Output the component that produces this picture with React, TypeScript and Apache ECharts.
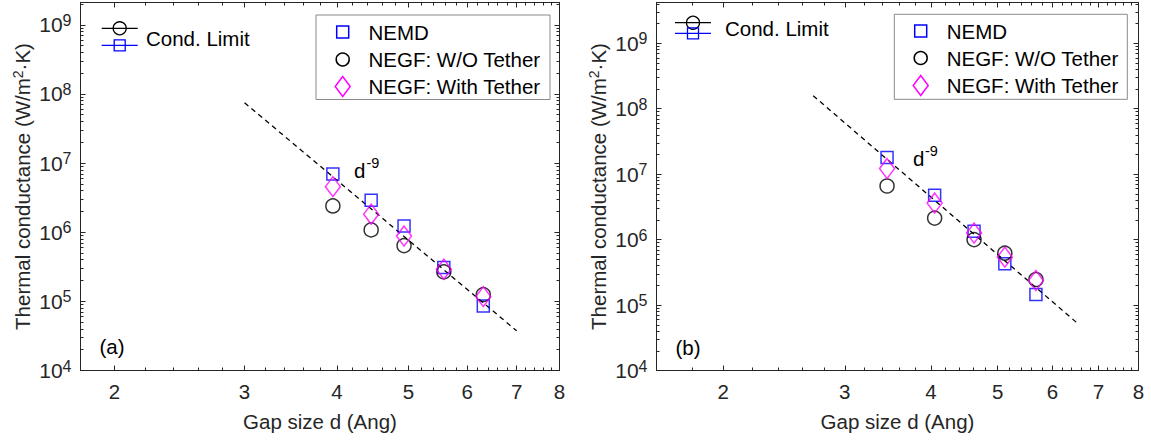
import React, { useEffect, useRef } from 'react';
import * as echarts from 'echarts';

// ---------- data ----------
// panel (a)
const gapA = [3.95, 4.45, 4.93, 5.58, 6.31];
const nemdA = [6.97e6, 2.9e6, 1.23e6, 3.08e5, 8.6e4];
const negfNoTetherA = [2.4e6, 1.08e6, 6.4e5, 2.67e5, 1.25e5];
const negfTetherA = [4.56e6, 1.82e6, 8.8e5, 2.92e5, 1.17e5];
const fitGapA = [3, 7];
const fitCondA = [7.46e7, 3.75e4];

// panel (b)
const gapB = [3.455, 4.05, 4.62, 5.12, 5.68];
const nemdB = [1.79e7, 4.75e6, 1.34e6, 4.28e5, 1.45e5];
const negfNoTetherB = [6.6e6, 2.13e6, 1.0e6, 6.2e5, 2.46e5];
const negfTetherB = [1.22e7, 3.62e6, 1.26e6, 5.4e5, 2.37e5];
const fitGapB = [2.7, 6.5];
const fitCondB = [1.58e8, 5.46e4];

// tick labels
const xMajorTicks = [2, 3, 4, 5, 6, 7, 8];
const yMajorTicks = [1e4, 1e5, 1e6, 1e7, 1e8, 1e9];
const seriesNames = ['NEMD', 'NEGF: W/O Tether', 'NEGF: With Tether'];
const condLimitLabel = 'Cond. Limit';
const xTitle = 'Gap size d (Ang)';
const yTitle = 'Thermal conductance (W/m{sup|2}·K)';

// minor tick positions (MATLAB style)
const xMinorTicks: number[] = [];
for (let i = 8; i <= 39; i++) if (i % 5 !== 0) xMinorTicks.push(i / 5);
const yMinorTicks: number[] = [];
for (let e = 4; e <= 9; e++) for (let k = 2; k <= 9; k++) yMinorTicks.push(k * Math.pow(10, e));

const FONT = 'Liberation Sans, Arial, Helvetica, sans-serif';
const FS = 20.5;
const AX = '#262626';
const BLUE = '#0000ff';
const MAGENTA = '#ff00ff';

const zip = (xs: number[], ys: number[]) => xs.map((x, i) => [x, ys[i]]);

function makeAxes(gridIndex: number, xMin: number, xMax: number, yMin: number, yMax: number) {
  const baseX = {
    type: 'log', logBase: 10, gridIndex, min: xMin, max: xMax,
    splitLine: { show: false }, minorTick: { show: false }, minorSplitLine: { show: false },
  };
  const baseY = {
    type: 'log', logBase: 10, gridIndex, min: yMin, max: yMax,
    splitLine: { show: false }, minorTick: { show: false }, minorSplitLine: { show: false },
  };
  const line = (show: boolean) => ({ show, onZero: false, lineStyle: { color: AX, width: 1 } });
  const tick = (vals: number[], len: number) => ({
    show: true, inside: true, length: len, customValues: vals, lineStyle: { color: AX, width: 1 },
  });
  const noLabel = { show: false };
  const xAxes = [
    {
      ...baseX, position: 'bottom', axisLine: line(true), axisTick: tick(xMajorTicks, 5),
      axisLabel: {
        show: true, customValues: xMajorTicks, margin: 10, color: AX, fontSize: FS, fontFamily: FONT,
        formatter: (v: number) => String(Math.round(v)),
      },
      name: xTitle, nameLocation: 'middle', nameGap: 40,
      nameTextStyle: { color: AX, fontSize: FS, fontFamily: FONT },
    },
    { ...baseX, position: 'bottom', axisLine: line(false), axisTick: tick(xMinorTicks, 3), axisLabel: noLabel },
    { ...baseX, position: 'top', axisLine: line(true), axisTick: tick(xMajorTicks, 5), axisLabel: noLabel },
    { ...baseX, position: 'top', axisLine: line(false), axisTick: tick(xMinorTicks, 3), axisLabel: noLabel },
  ];
  const yAxes = [
    {
      ...baseY, position: 'left', axisLine: line(true), axisTick: tick(yMajorTicks, 5),
      axisLabel: {
        show: true, customValues: yMajorTicks, margin: 9, color: AX,
        formatter: (v: number) => `{b|10}{s|${Math.round(Math.log10(v))}}`,
        rich: {
          b: { fontSize: 21, lineHeight: 25, fontFamily: FONT, color: AX },
          s: { fontSize: 16, lineHeight: 16, fontFamily: FONT, color: AX, verticalAlign: 'top' },
        },
      },
      name: yTitle, nameLocation: 'middle', nameGap: 46, nameRotate: 90,
      nameTextStyle: {
        color: AX, fontSize: FS, lineHeight: 24, fontFamily: FONT,
        rich: { sup: { fontSize: 14, lineHeight: 14, fontFamily: FONT, color: AX, verticalAlign: 'top' } },
      },
    },
    { ...baseY, position: 'left', axisLine: line(false), axisTick: tick(yMinorTicks, 3), axisLabel: noLabel },
    { ...baseY, position: 'right', axisLine: line(true), axisTick: tick(yMajorTicks, 5), axisLabel: noLabel },
    { ...baseY, position: 'right', axisLine: line(false), axisTick: tick(yMinorTicks, 3), axisLabel: noLabel },
  ];
  return { xAxes, yAxes };
}

function makeSeries(axisIndex: number, gaps: number[], nemd: number[], noT: number[], withT: number[], fitX: number[], fitY: number[]) {
  const common = { xAxisIndex: axisIndex, yAxisIndex: axisIndex, silent: true };
  return [
    {
      ...common, type: 'line', data: zip(fitX, fitY), showSymbol: false, symbol: 'none',
      lineStyle: { color: '#000', width: 1.3, type: [5, 4] }, z: 2,
    },
    {
      ...common, type: 'scatter', name: seriesNames[0], data: zip(gaps, nemd), symbol: 'rect', symbolSize: 12,
      itemStyle: { color: 'rgba(0,0,0,0)', borderColor: BLUE, borderWidth: 1.5 }, z: 3,
    },
    {
      ...common, type: 'scatter', name: seriesNames[1], data: zip(gaps, noT), symbol: 'circle', symbolSize: 14,
      itemStyle: { color: 'rgba(0,0,0,0)', borderColor: '#000', borderWidth: 1.5 }, z: 4,
    },
    {
      ...common, type: 'scatter', name: seriesNames[2], data: zip(gaps, withT), symbol: 'diamond', symbolSize: [15, 20],
      itemStyle: { color: 'rgba(0,0,0,0)', borderColor: MAGENTA, borderWidth: 1.5 }, z: 5,
    },
  ];
}

function textEl(x: number, y: number, text: string, size = FS, align = 'left') {
  return {
    type: 'text', z: 101, silent: true,
    style: { x, y, text, fontSize: size, fontFamily: FONT, fill: '#000', align, verticalAlign: 'middle' },
  };
}

function legendBox(bx: number, by: number, bw: number, bh: number, mx: number, tx: number, rows: number[]) {
  const els: any[] = [
    { type: 'rect', z: 100, silent: true, shape: { x: bx, y: by, width: bw, height: bh }, style: { fill: '#fff', stroke: '#8a8a8a', lineWidth: 1 } },
    { type: 'rect', z: 101, silent: true, shape: { x: mx - 6, y: rows[0] - 6, width: 12, height: 12 }, style: { fill: 'none', stroke: BLUE, lineWidth: 1.5 } },
    { type: 'circle', z: 101, silent: true, shape: { cx: mx, cy: rows[1], r: 6.5 }, style: { fill: 'none', stroke: '#000', lineWidth: 1.5 } },
    {
      type: 'polygon', z: 101, silent: true,
      shape: { points: [[mx, rows[2] - 10], [mx + 7.5, rows[2]], [mx, rows[2] + 10], [mx - 7.5, rows[2]]] },
      style: { fill: 'none', stroke: MAGENTA, lineWidth: 1.5 },
    },
  ];
  seriesNames.forEach((n, i) => els.push(textEl(tx, rows[i], n)));
  return els;
}

function condLimit(x0: number, x1: number, yC: number, yS: number, tx: number, ty: number) {
  const cx = (x0 + x1) / 2;
  return [
    { type: 'line', z: 101, silent: true, shape: { x1: x0, y1: yC, x2: x1, y2: yC }, style: { stroke: '#000', lineWidth: 1.3 } },
    { type: 'circle', z: 101, silent: true, shape: { cx, cy: yC, r: 6.5 }, style: { fill: 'none', stroke: '#000', lineWidth: 1.3 } },
    { type: 'line', z: 101, silent: true, shape: { x1: x0, y1: yS, x2: x1, y2: yS }, style: { stroke: BLUE, lineWidth: 1.3 } },
    { type: 'rect', z: 101, silent: true, shape: { x: cx - 5.5, y: yS - 5.5, width: 11, height: 11 }, style: { fill: 'none', stroke: BLUE, lineWidth: 1.3 } },
    textEl(tx, ty, condLimitLabel),
  ];
}

export default function App() {
  const ref = useRef<HTMLDivElement>(null);
  useEffect(() => {
    if (!ref.current) return;
    const chart = echarts.init(ref.current, null, { renderer: 'svg' });
    const a = makeAxes(0, 1.8, 8, 1e4, 2.1e9);
    const b = makeAxes(1, 1.6, 8, 1e4, 4.2e9);
    const option: any = {
      animation: false,
      backgroundColor: '#fff',
      textStyle: { fontFamily: FONT },
      grid: [
        { left: 80.5, top: 2.5, width: 479, height: 368, outerBoundsMode: 'none', containLabel: false },
        { left: 656.5, top: 2.5, width: 482, height: 368, outerBoundsMode: 'none', containLabel: false },
      ],
      xAxis: [...a.xAxes, ...b.xAxes],
      yAxis: [...a.yAxes, ...b.yAxes],
      series: [
        ...makeSeries(0, gapA, nemdA, negfNoTetherA, negfTetherA, fitGapA, fitCondA),
        ...makeSeries(4, gapB, nemdB, negfNoTetherB, negfTetherB, fitGapB, fitCondB),
      ],
      graphic: [
        ...legendBox(316, 15, 234, 84.5, 342.7, 368.5, [32, 59.5, 86.5]),
        ...legendBox(894.3, 14.3, 233, 85, 920.7, 946.7, [31, 58, 85.5]),
        ...condLimit(101.7, 137.7, 28.3, 45.3, 146, 38.5),
        ...condLimit(675, 711, 22.7, 33.3, 725, 28.5),
        textEl(354, 170.4, 'd'),
        textEl(366.5, 163.4, '-9', 14.5),
        textEl(913, 158, 'd'),
        textEl(925, 151, '-9', 14.5),
        textEl(99.5, 346, '(a)'),
        textEl(675.5, 347, '(b)'),
      ],
    };
    chart.setOption(option);
    return () => chart.dispose();
  }, []);
  return <div ref={ref} style={{ position: 'fixed', left: 0, top: 0, width: 1151, height: 441 }} />;
}
